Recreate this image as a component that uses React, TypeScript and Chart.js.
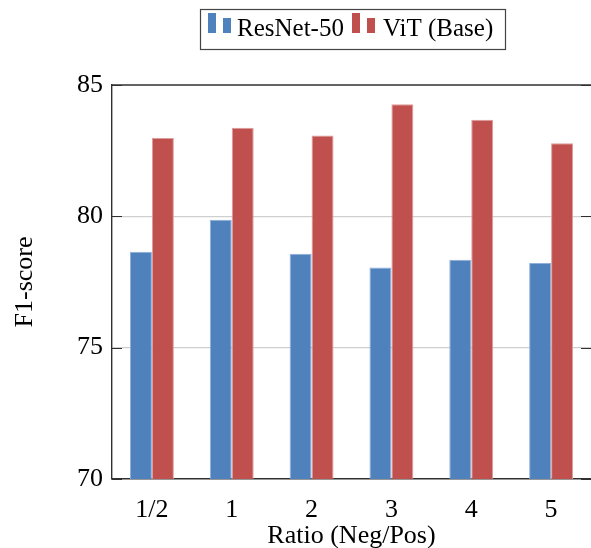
import React, { useEffect, useRef } from "react";
import { Chart, registerables } from "chart.js";

Chart.register(...registerables);

const categories = ["1/2", "1", "2", "3", "4", "5"];
const resnet50 = [78.65, 79.87, 78.58, 78.05, 78.35, 78.22];
const vitBase = [82.98, 83.37, 83.08, 84.27, 83.68, 82.78];
const yTicks = [70, 75, 80, 85];
const seriesNames = ["ResNet-50", "ViT (Base)"];
const xTitle = "Ratio (Neg/Pos)";
const yTitle = "F1-score";

const FONT = "'Liberation Serif', 'Times New Roman', serif";
const BLUE = "#4F81BD";
const RED = "#C0504D";
const BLUE_EDGE = "#8DAFD9";
const RED_EDGE = "#DD9C9A";
const AXIS = "#303030";

const framePlugin = {
  id: "frame",
  afterDraw(chart: any) {
    const { ctx, chartArea: a, scales } = chart;
    const y = scales.y;
    ctx.save();
    // top frame
    ctx.strokeStyle = AXIS;
    ctx.lineWidth = 1.4;
    ctx.beginPath();
    ctx.moveTo(a.left, a.top);
    ctx.lineTo(a.right, a.top);
    ctx.stroke();
    // inner tick marks left and right
    ctx.lineWidth = 1.2;
    ctx.beginPath();
    for (const v of yTicks) {
      const py = Math.round(y.getPixelForValue(v)) + 0.5;
      ctx.moveTo(a.left, py);
      ctx.lineTo(a.left + 10, py);
      ctx.moveTo(a.right - 10, py);
      ctx.lineTo(a.right, py);
    }
    ctx.stroke();

    // legend
    const bx = 200, by = 9, bw = 305, bh = 40;
    ctx.fillStyle = "#ffffff";
    ctx.fillRect(bx, by, bw, bh);
    ctx.strokeStyle = "#444444";
    ctx.lineWidth = 1.2;
    ctx.strokeRect(bx + 0.5, by + 0.5, bw, bh);
    const items = [
      { name: seriesNames[0], color: BLUE, x: 208, tx: 237 },
      { name: seriesNames[1], color: RED, x: 352, tx: 383 },
    ];
    ctx.font = `25px ${FONT}`;
    ctx.textBaseline = "alphabetic";
    ctx.textAlign = "left";
    for (const it of items) {
      ctx.fillStyle = it.color;
      ctx.fillRect(it.x, 13, 8, 20);
      ctx.fillRect(it.x + 15, 18, 8, 15);
      ctx.fillStyle = "#000000";
      ctx.fillText(it.name, it.tx, 36);
    }
    ctx.restore();
  },
};

export default function App() {
  const ref = useRef<HTMLCanvasElement | null>(null);

  useEffect(() => {
    if (!ref.current) return;
    const chart = new Chart(ref.current, {
      type: "bar",
      data: {
        labels: categories,
        datasets: [
          {
            label: seriesNames[0],
            data: resnet50,
            backgroundColor: BLUE,
            borderColor: BLUE_EDGE,
            borderWidth: 1,
            categoryPercentage: 0.55,
            barPercentage: 1.0,
          },
          {
            label: seriesNames[1],
            data: vitBase,
            backgroundColor: RED,
            borderColor: RED_EDGE,
            borderWidth: 1,
            categoryPercentage: 0.55,
            barPercentage: 1.0,
          },
        ],
      },
      options: {
        responsive: false,
        animation: false,
        layout: { padding: { top: 85, right: 0, left: 0, bottom: 0 } },
        plugins: {
          legend: { display: false },
          tooltip: { enabled: false },
        },
        scales: {
          x: {
            offset: true,
            grid: { display: false, drawTicks: false },
            border: { display: true, color: AXIS, width: 1.4 },
            ticks: {
              color: "#000000",
              font: { family: FONT, size: 26 },
              padding: 16,
              maxRotation: 0,
            },
            title: {
              display: true,
              text: xTitle,
              color: "#000000",
              font: { family: FONT, size: 26 },
              padding: { top: 0, bottom: -4 },
            },
            afterFit: (s: any) => {
              s.height = 69;
            },
          },
          y: {
            min: 70,
            max: 85,
            afterBuildTicks: (s: any) => {
              s.ticks = yTicks.map((v) => ({ value: v }));
            },
            grid: {
              drawTicks: false,
              color: (c: any) =>
                c.tick && (c.tick.value === 70 || c.tick.value === 85)
                  ? "rgba(0,0,0,0)"
                  : "#cfcfcf",
              lineWidth: 1.2,
            },
            border: { display: true, color: AXIS, width: 1.4 },
            ticks: {
              color: "#000000",
              font: { family: FONT, size: 26 },
              padding: 9,
            },
            title: {
              display: true,
              text: yTitle,
              color: "#000000",
              font: { family: FONT, size: 26 },
              padding: { top: 10, bottom: 0 },
            },
            afterFit: (s: any) => {
              s.width = 112;
            },
          },
        },
      },
      plugins: [framePlugin],
    });
    return () => chart.destroy();
  }, []);

  return (
    <div style={{ position: "absolute", left: 0, top: 0, width: 591, height: 548, background: "#fff" }}>
      <canvas ref={ref} width={591} height={548} />
    </div>
  );
}
